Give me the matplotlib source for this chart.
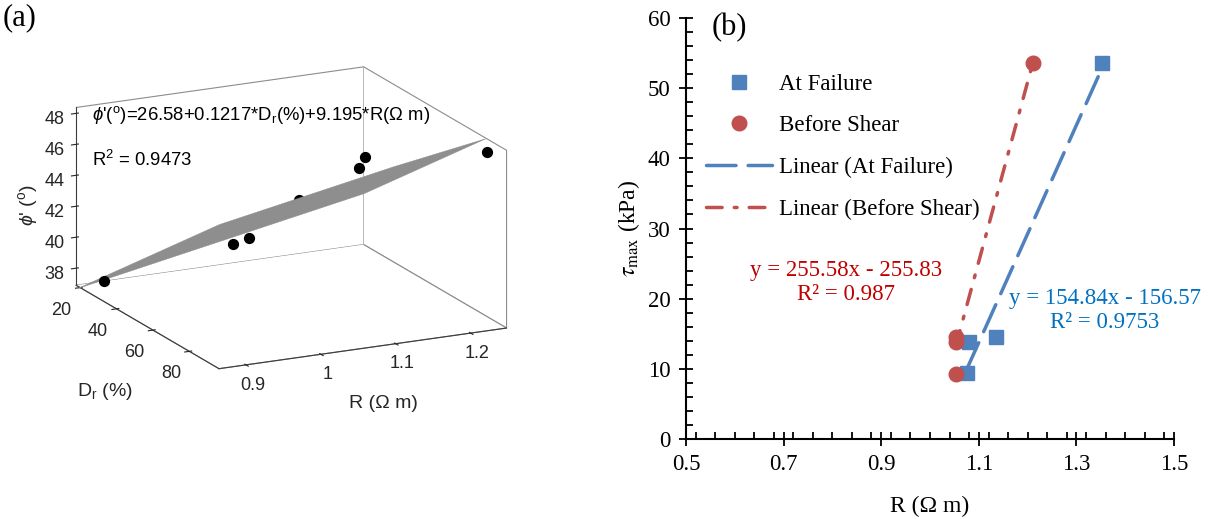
import numpy as np
import matplotlib
matplotlib.use("Agg")
import matplotlib.pyplot as plt
from matplotlib.ticker import MultipleLocator
from mpl_toolkits.mplot3d.art3d import Poly3DCollection

# ---- panel (a) data: 3D test points and fitted plane
dr_pts = [25, 40, 60, 50, 80, 85, 96]
r_pts = [0.884, 1.019, 0.992, 1.083, 1.090, 1.087, 1.222]
phi_pts = [37.5, 40.0, 42.0, 43.1, 47.2, 48.3, 48.4]
hidden = [False, False, False, True, False, False, False]   # behind the plane
fit_coef = [26.58, 0.1217, 9.195]
dr_lim = [17.8, 96.3]
r_lim = [0.864, 1.248]
phi_lim = [36.9, 48.38]

# ---- panel (b) data
r_fail = [1.352, 1.135, 1.079, 1.075]
tau_fail = [53.6, 14.6, 13.8, 9.4]
r_before = [1.212, 1.053, 1.053, 1.053]
tau_before = [53.6, 14.6, 13.8, 9.3]
fit_fail = [154.84, -156.57]
fit_before = [255.58, -255.83]

W, H = 1225, 519
fig = plt.figure(figsize=(W / 100, H / 100), dpi=100)

plt.rcParams['mathtext.fontset'] = 'custom'
plt.rcParams['mathtext.rm'] = 'Liberation Sans'
plt.rcParams['mathtext.it'] = 'Liberation Sans:italic'
plt.rcParams['mathtext.fallback'] = 'stix'

sans = 'Liberation Sans'
serif = 'Liberation Serif'
txtc = '#262626'


def fx(px):
    return px / W


def fy(py):
    return 1 - py / H


# =================== (a) ===================
ax = fig.add_axes([fx(-3), 0.108, 0.47, 0.92], projection='3d', computed_zorder=False)
ax.set_proj_type('ortho')
ax.view_init(elev=16.7, azim=-26.2)
ax.set_box_aspect((1.01, 1, 0.579), zoom=1.0)
ax.set_xlim(dr_lim)
ax.set_ylim(r_lim)
ax.set_zlim(phi_lim)
ax.grid(False)
for axis in (ax.xaxis, ax.yaxis, ax.zaxis):
    axis.set_pane_color((1, 1, 1, 1))
    axis.pane.set_edgecolor('#8c8c8c')
    axis.pane.set_linewidth(0.8)
    axis.line.set_color('#3c3c3c')
    axis.line.set_linewidth(0.8)
    axis._axinfo['tick']['color'] = '#3c3c3c'
ax.zaxis.set_ticks_position('lower')

ax.set_xticks([20, 40, 60, 80])
ax.set_yticks([0.9, 1.0, 1.1, 1.2])
ax.set_yticklabels(['0.9', '1', '1.1', '1.2'])
ax.set_zticks([38, 40, 42, 44, 46, 48])
ax.tick_params(labelsize=13, colors=txtc)
ax.yaxis.set_tick_params(pad=0)
ax.zaxis.set_tick_params(pad=1)
for lab in ax.get_xticklabels() + ax.get_yticklabels() + ax.get_zticklabels():
    lab.set_fontfamily(sans)

# fitted plane, clipped at the top of the z range
c0, c1, c2 = fit_coef
x0, x1 = dr_lim
y0, y1 = r_lim
zt = phi_lim[1]
yc = (zt - c0 - c1 * x1) / c2
xc = (zt - c0 - c2 * y1) / c1
poly = [(x0, y0), (x1, y0), (x1, yc), (xc, y1), (x0, y1)]
verts = [[(p, q, c0 + c1 * p + c2 * q) for p, q in poly]]
surf = Poly3DCollection(verts, facecolor='#8e8e8e', edgecolor='#8e8e8e', linewidth=0.3, zorder=2)

for d, r, p, h in zip(dr_pts, r_pts, phi_pts, hidden):
    if h:
        ax.scatter([d], [r], [p], s=50, c='k', depthshade=False, zorder=1)
ax.add_collection3d(surf)
for d, r, p, h in zip(dr_pts, r_pts, phi_pts, hidden):
    if not h:
        ax.scatter([d], [r], [p], s=50, c='k', depthshade=False, zorder=3)

fig.text(fx(105), fy(392), 'D$_{\\rm r}$ (%)', fontsize=14, family=sans, color=txtc, ha='center', va='center')
fig.text(fx(383), fy(403), 'R (\u03a9 m)', fontsize=14, family=sans, color=txtc, ha='center', va='center')
fig.text(fx(28), fy(205), "$\\phi$' ($^{\\rm o}$)", fontsize=14, family=sans, color=txtc,
         ha='center', va='center', rotation=90)

fig.text(fx(92), fy(115), "$\\phi$'($^{\\rm o}$)=26.58+0.1217*D$_{\\rm r}$(%)+9.195*R(\u03a9 m)",
         fontsize=13.3, family=sans, color='k', va='center', ha='left')
fig.text(fx(92), fy(160), 'R$^2$ = 0.9473', fontsize=13.3, family=sans, color='k', va='center', ha='left')
fig.text(fx(3), fy(18), '(a)', fontsize=22, family=serif, va='center', ha='left')

# =================== (b) ===================
ax2 = fig.add_axes([fx(686), fy(439), (1174 - 686) / W, (439 - 18) / H])
blue = '#4f81bd'
red = '#c0504d'
ax2.plot(r_fail, tau_fail, 's', color=blue, ms=9.5, label='At Failure', zorder=3)
ax2.plot(r_before, tau_before, 'o', color=red, ms=10.5, label='Before Shear', zorder=3)
xf = np.array([min(r_fail), max(r_fail)])
xb = np.array([min(r_before), max(r_before)])
ax2.plot(xf, fit_fail[0] * xf + fit_fail[1], color=blue, lw=2.5, dashes=(8.5, 3.5),
         dash_capstyle='round', label='Linear (At Failure)', zorder=2)
ax2.plot(xb, fit_before[0] * xb + fit_before[1], color=red, lw=2.5, dashes=(4.5, 3.5, 0.8, 3.5),
         dash_capstyle='round', label='Linear (Before Shear)', zorder=2)

ax2.set_xlim(0.5, 1.5)
ax2.set_ylim(0, 60)
ax2.set_xticks(np.arange(0.5, 1.51, 0.2))
ax2.set_xticklabels(['0.5', '0.7', '0.9', '1.1', '1.3', '1.5'])
ax2.xaxis.set_minor_locator(MultipleLocator(0.04))
ax2.yaxis.set_major_locator(MultipleLocator(10))
ax2.yaxis.set_minor_locator(MultipleLocator(2))
ax2.tick_params(which='major', direction='inout', length=10, width=1.3, labelsize=16.5, pad=6)
ax2.tick_params(which='minor', direction='in', length=5, width=1.3)
for lab in ax2.get_xticklabels() + ax2.get_yticklabels():
    lab.set_fontfamily(serif)
for s in ('top', 'right'):
    ax2.spines[s].set_visible(False)
for s in ('left', 'bottom'):
    ax2.spines[s].set_linewidth(1.5)

ax2.set_xlabel('R (\u03a9 m)', fontsize=17, family=serif, labelpad=15)
ax2.set_ylabel('$\\tau_{\\rm max}$ (kPa)', fontsize=17, family=serif, math_fontfamily='stix', labelpad=4)

leg = ax2.legend(loc='upper left', bbox_to_anchor=(fx(706), fy(74)), bbox_transform=fig.transFigure,
                 frameon=False, prop={'family': serif, 'size': 16.5}, handlelength=2.9,
                 handletextpad=0.3, labelspacing=0.89, borderpad=0, borderaxespad=0)

fig.text(fx(846), fy(282.5), 'y = 255.58x - 255.83\nR\u00b2 = 0.987', fontsize=16.5, family=serif,
         color='#c00000', ha='center', va='center', linespacing=1.15)
fig.text(fx(1105), fy(310.5), 'y = 154.84x - 156.57\nR\u00b2 = 0.9753', fontsize=16.5, family=serif,
         color='#0070c0', ha='center', va='center', linespacing=1.15)
fig.text(fx(712), fy(28), '(b)', fontsize=22, family=serif, va='center', ha='left')

fig.savefig('out.png', dpi=100)
